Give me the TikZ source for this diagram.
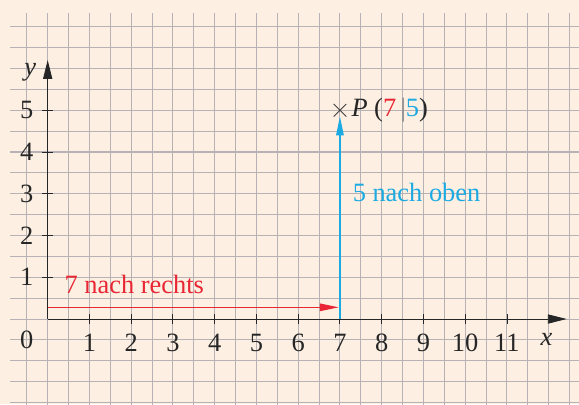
\documentclass[tikz,border=0pt]{standalone}
\usepackage{fontspec}
\setmainfont{Liberation Serif}
\usepackage{xcolor}
\usepackage{tikz}
\usetikzlibrary{arrows.meta,positioning,shapes.misc}
\definecolor{paper}{RGB}{253,239,226}
\definecolor{gridgray}{RGB}{182,178,182}
\definecolor{redmove}{RGB}{232,38,52}
\definecolor{cyanmove}{RGB}{28,170,226}

\begin{document}
\begin{tikzpicture}[
  lbl/.style={font=\fontsize{18}{21}\selectfont, inner sep=0pt, text=black!85},
  axis/.style={-{Triangle[length=4.5mm,width=2.2mm]}, line width=0.6pt, black!85},
  move/.style={-{Triangle[length=4.5mm,width=1.8mm]}, line width=0.8pt},
  tick/.style={line width=0.6pt, black!85}
]
\useasboundingbox[fill=paper] (-1.142,-2.036) rectangle (12.726,7.641);
% grid
\foreach \x in {-0.5,0,...,12.5}
  \draw[gridgray, line width=0.7pt] (\x,-2.1) -- (\x,7.33);
\foreach \y in {-2,-1.5,...,7}
  \draw[gridgray, line width=0.7pt] (-0.9,\y) -- (12.8,\y);
% axes
\coordinate (O) at (0,0);
\coordinate (xend) at (12.43,0);
\coordinate (yend) at (0,6.2);
\draw[axis] (O) -- (xend);
\draw[axis] (O) -- (yend);
\foreach \i in {1,...,11} {
  \draw[tick] (\i,-0.12) -- (\i,0.12);
  \node[lbl] (xl\i) at (\i,-0.58) {\i};
}
\foreach \i in {1,...,5} {
  \draw[tick] (-0.13,\i) -- (0.13,\i);
  \node[lbl] (yl\i) at (-0.5,\i) {\i};
}
\node[lbl] (zero) at (-0.5,-0.5) {0};
\node[lbl] (xlab) at (11.95,-0.5) {\textit{x}};
\node[lbl] (ylab) at (-0.42,5.92) {\textit{y}};
% point P
\node[cross out, draw=black!75, line width=0.6pt, minimum size=0.28cm, inner sep=0pt] (P) at (7,5) {};
\node[lbl, anchor=west] (Plab) at (7.27,5) {\textit{P} (\textcolor{redmove}{7}\,\textcolor{black!50}{|}\textcolor{cyanmove}{5})};
% moves
\coordinate (X7) at (7,0);
\coordinate (r0) at (0,0.28);
\coordinate (r7) at (6.97,0.28);
\draw[move, redmove] (r0) -- (r7);
\draw[move, cyanmove] (X7) -- (P.south);
\node[lbl, text=redmove, anchor=base west] (rechts) at (0.4,0.62) {7 nach rechts};
\node[lbl, text=cyanmove, anchor=west] (oben) at (7.3,3.02) {5 nach oben};
\end{tikzpicture}
\end{document}
